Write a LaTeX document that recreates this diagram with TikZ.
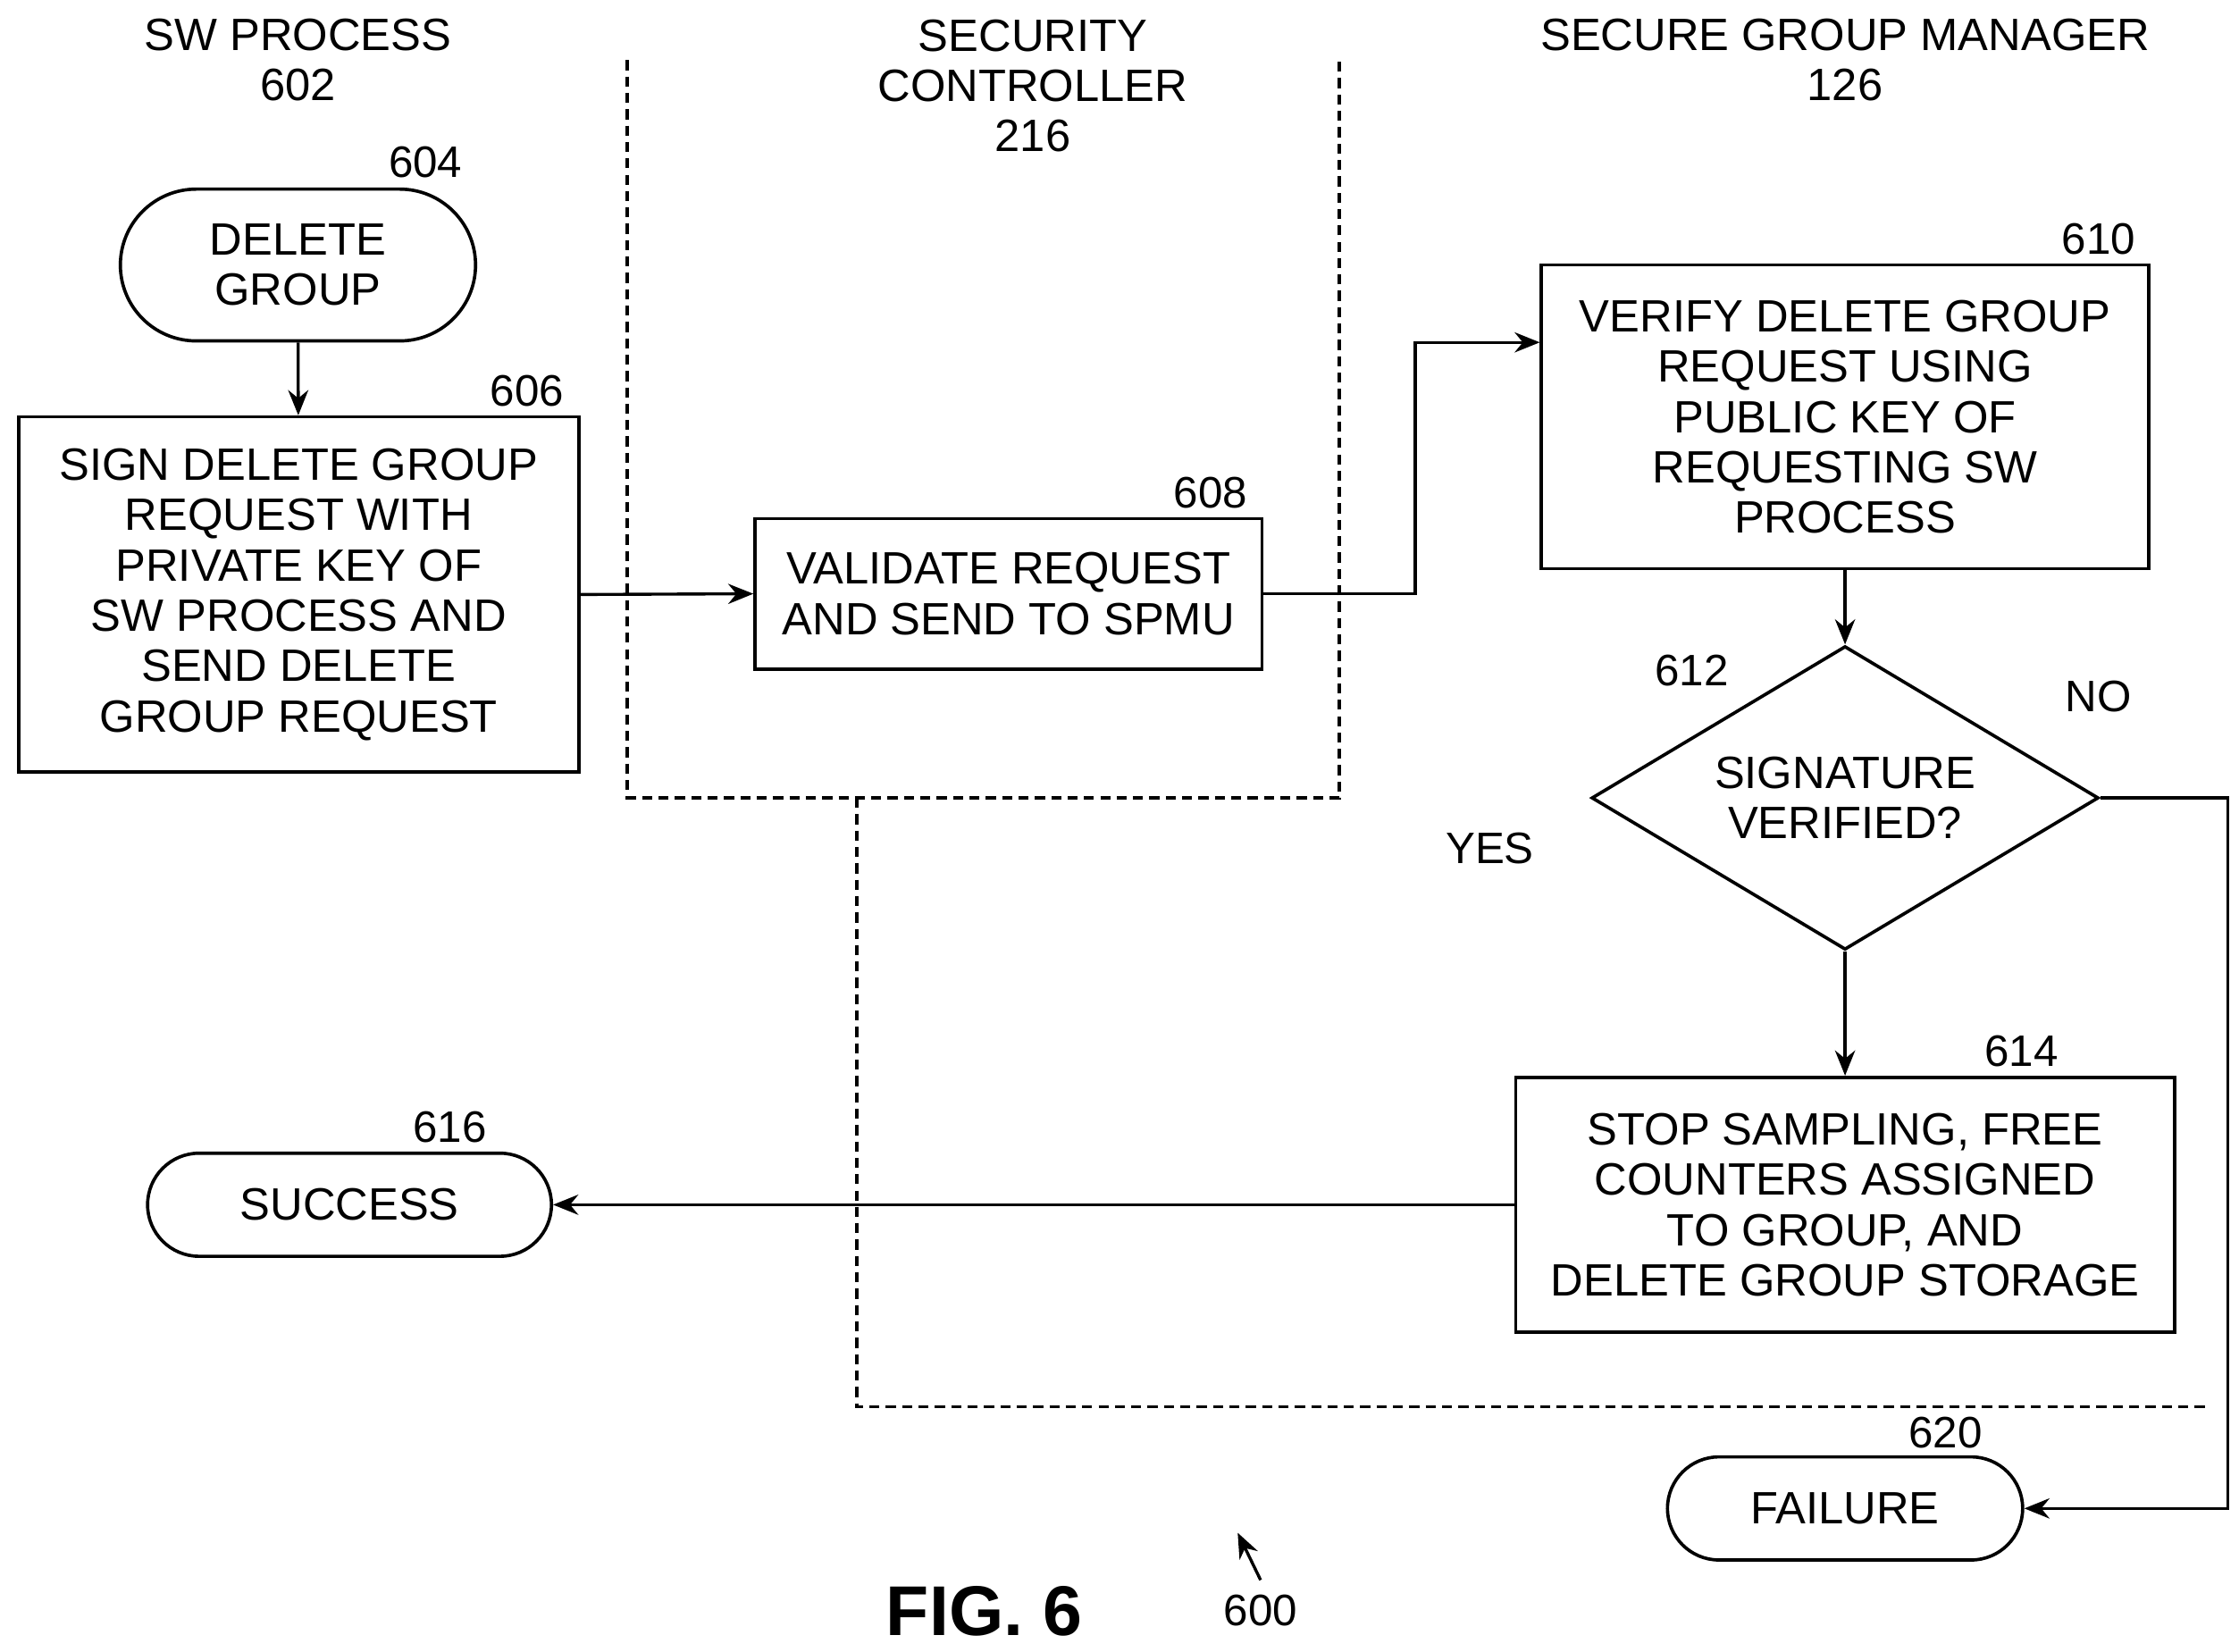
\documentclass[tikz,border=0pt]{standalone}
\usepackage{fontspec}
\setmainfont{Liberation Sans}
\usetikzlibrary{shapes.geometric,shapes.misc,arrows.meta}
\begin{document}
\begin{tikzpicture}[x=0.02cm,y=-0.02cm,
 every node/.style={font=\fontsize{18}{20}\selectfont, align=center, inner sep=0pt},
 box/.style={draw, line width=1.3pt},
 term/.style={draw, line width=1.3pt, rounded rectangle},
 lbl/.style={font=\fontsize{17.5}{20}\selectfont},
 arr/.style={line width=1.2pt, -{Stealth[length=10pt,width=8pt]}},
 dashln/.style={line width=1.3pt, dash pattern=on 4pt off 2.5pt}]
\useasboundingbox (0,0) rectangle (1563,1153);
\node (h1) at (208,42) {SW PROCESS\\602};
\node (h2) at (721,60) {SECURITY\\CONTROLLER\\216};
\node (h3) at (1288,42) {SECURE GROUP MANAGER\\126};
\draw[dashln] (438,42) -- (438,557) -- (935,557) -- (935,42);
\draw[dashln] (598,557) -- (598,982) -- (1540,982);
\node[term, minimum width=4.96cm, minimum height=2.12cm] (n604) at (208,185) {DELETE\\GROUP};
\node[lbl] at (297,113) {604};
\node[box, minimum width=7.82cm, minimum height=4.96cm] (n606) at (208.5,415) {SIGN DELETE GROUP\\REQUEST WITH\\PRIVATE KEY OF\\SW PROCESS AND\\SEND DELETE\\GROUP REQUEST};
\node[lbl] at (368,273) {606};
\node[box, minimum width=7.08cm, minimum height=2.1cm] (n608) at (704,414.5) {VALIDATE REQUEST\\AND SEND TO SPMU};
\node[lbl] at (845,344) {608};
\node[box, minimum width=8.48cm, minimum height=4.24cm] (n610) at (1288,291) {VERIFY DELETE GROUP\\REQUEST USING\\PUBLIC KEY OF\\REQUESTING SW\\PROCESS};
\node[lbl] at (1465,167) {610};
\node[draw, line width=1.3pt, diamond, aspect=1.67, minimum width=7.08cm, minimum height=4.24cm] (n612) at (1288,557) {SIGNATURE\\VERIFIED?};
\node[lbl] at (1181,468) {612};
\node[lbl] at (1465,486) {NO};
\node[lbl] at (1040,592) {YES};
\node[box, minimum width=9.2cm, minimum height=3.56cm] (n614) at (1288,841) {STOP SAMPLING, FREE\\COUNTERS ASSIGNED\\TO GROUP, AND\\DELETE GROUP STORAGE};
\node[lbl] at (1411,734) {614};
\node[term, minimum width=5.64cm, minimum height=1.44cm] (n616) at (244,841) {SUCCESS};
\node[lbl] at (314,787) {616};
\node[term, minimum width=4.96cm, minimum height=1.44cm] (n620) at (1288,1053) {FAILURE};
\node[lbl] at (1358,1000) {620};
\node[font=\bfseries\fontsize{28}{30}\selectfont] (fig) at (687,1125) {FIG. 6};
\node[lbl] (n600) at (880,1124) {600};
\coordinate (a600) at (864,1070);
\draw[arr] (n604) -- (n606);
\draw[arr] (n606.east) -- (n608.west);
\draw[arr] (n608.east) -- (988,414.5) -- (988,239) -- (n610.west |- 0,239);
\draw[arr] (n610) -- (n612);
\draw[arr] (n612) -- (n614);
\draw[arr] (n612.east) -- (1555,557) -- (1555,1053) -- (n620.east);
\draw[arr] (n614.west) -- (n616.east);
\draw[arr] (880,1103) -- (a600);
\end{tikzpicture}
\end{document}
